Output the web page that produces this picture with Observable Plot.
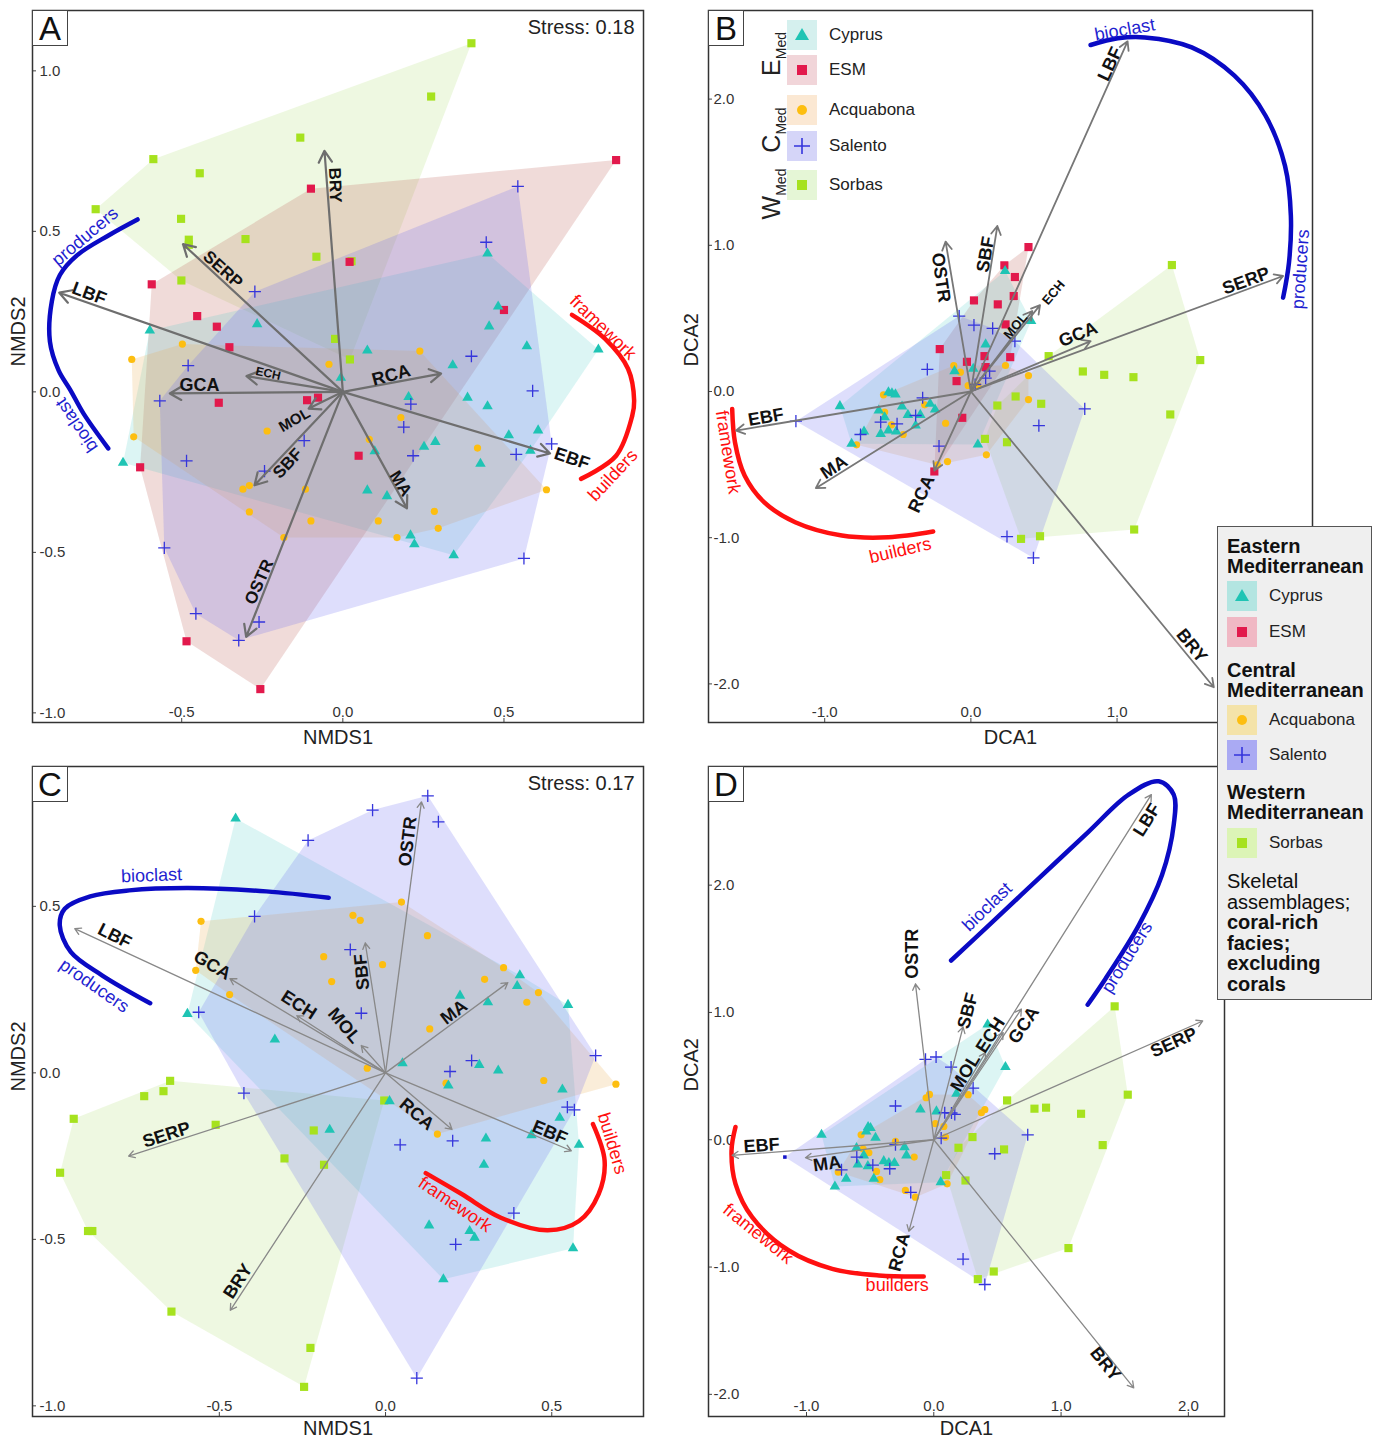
<!DOCTYPE html>
<html><head><meta charset="utf-8">
<script src="https://cdn.jsdelivr.net/npm/d3@7"></script>
<script src="https://cdn.jsdelivr.net/npm/@observablehq/plot@0.6"></script>
<style>
body{margin:0;background:#fff;font-family:"Liberation Sans",Arial,sans-serif;}
#root{position:relative;width:1379px;height:1440px;overflow:hidden;background:#fff;}
.panel{position:absolute;}
.letter{position:absolute;box-sizing:border-box;width:36px;height:36px;border:1px solid #444;background:#fff;font-size:33px;line-height:35px;text-align:center;color:#111;}
.glab{position:absolute;transform:translate(-50%,-50%) rotate(-90deg);white-space:nowrap;font-size:25px;color:#222;line-height:1;}
.glab sub{font-size:14px;}
.sw{position:absolute;width:30px;height:30px;}
.swt{position:absolute;font-size:17px;color:#222;line-height:30px;white-space:nowrap;}
#legend{position:absolute;left:1217px;top:526px;width:155px;height:474px;box-sizing:border-box;background:#efefef;border:1.5px solid #555;}
.lh{position:absolute;left:9px;font-size:20px;line-height:20px;font-weight:bold;color:#111;white-space:nowrap;}
.lt{position:absolute;left:9px;font-size:20px;line-height:20px;color:#111;white-space:nowrap;}
</style></head><body><div id="root"></div>
<script>
// ---------- Panel A (NMDS, skeletal assemblages) ----------
const aCyprus = [[0.449,0.431],[0.482,0.266],[0.454,0.204],[-0.266,0.211],[-0.599,0.191],[0.571,0.142],[0.793,0.132],[0.076,0.129],[0.341,0.083],[-0.006,0.044],[0.204,-0.016],[0.387,-0.018],[0.449,-0.045],[0.515,-0.135],[0.606,-0.120],[0.287,-0.156],[0.252,-0.171],[0.099,-0.185],[0.582,-0.183],[0.427,-0.224],[-0.682,-0.221],[0.076,-0.307],[0.137,-0.325],[0.210,-0.447],[0.222,-0.475],[0.344,-0.509]];
const aESM = [[0.848,0.722],[-0.099,0.633],[0.021,0.405],[-0.593,0.335],[0.500,0.255],[-0.452,0.236],[-0.391,0.203],[-0.352,0.139],[-0.385,-0.034],[-0.111,-0.026],[-0.077,-0.018],[0.049,-0.199],[-0.629,-0.235],[-0.485,-0.777],[-0.256,-0.926]];
const aAcquabona = [[-0.498,0.149],[-0.655,0.101],[0.239,0.127],[-0.043,0.086],[-0.649,-0.140],[-0.235,-0.122],[0.180,-0.080],[0.082,-0.148],[0.418,-0.175],[-0.310,-0.303],[-0.290,-0.292],[-0.116,-0.303],[0.632,-0.305],[-0.290,-0.374],[-0.099,-0.402],[0.110,-0.402],[0.284,-0.372],[0.296,-0.425],[-0.183,-0.454],[0.168,-0.454]];
const aSalento = [[0.543,0.640],[0.445,0.466],[-0.273,0.312],[0.399,0.111],[-0.480,0.082],[-0.568,-0.028],[0.589,0.003],[0.211,-0.038],[0.189,-0.110],[-0.120,-0.152],[0.648,-0.162],[0.538,-0.195],[0.218,-0.199],[-0.485,-0.215],[-0.243,-0.247],[-0.554,-0.486],[0.562,-0.519],[-0.456,-0.691],[-0.260,-0.717],[-0.323,-0.774]];
const aSorbas = [[0.399,1.086],[0.274,0.920],[-0.132,0.792],[-0.588,0.725],[-0.444,0.681],[-0.767,0.569],[-0.502,0.539],[-0.478,0.474],[-0.478,0.458],[-0.302,0.476],[-0.082,0.421],[0.027,0.407],[-0.501,0.347],[-0.024,0.165],[0.022,0.101]];
const aVars = ["LBF","SERP","BRY","ECH","GCA","RCA","MOL","SBF","OSTR","MA","EBF"];
const aVecX = [-0.880,-0.496,-0.057,-0.299,-0.537,0.305,-0.106,-0.274,-0.300,0.199,0.643];
const aVecY = [0.309,0.460,0.751,0.049,-0.005,0.057,-0.052,-0.291,-0.763,-0.363,-0.192];
const aLblX = [-0.787,-0.372,-0.024,-0.232,-0.445,0.150,-0.150,-0.171,-0.260,0.179,0.711];
const aLblY = [0.306,0.381,0.644,0.057,0.021,0.052,-0.088,-0.223,-0.592,-0.286,-0.208];
const aLblRot = [21,42,88,12,0,-15,-30,-47,-66,58,19];
const aLblSize = [18,17,17,12,18,18,15,17,17,17,18];
const aBlueArcX = [-0.637,-0.726,-0.824,-0.878,-0.903,-0.909,-0.882,-0.845,-0.805,-0.728];
const aBlueArcY = [0.537,0.488,0.426,0.364,0.282,0.157,0.067,0.005,-0.067,-0.176];
const aRedArcX = [0.711,0.814,0.885,0.904,0.898,0.848,0.739];
const aRedArcY = [0.240,0.165,0.072,-0.028,-0.075,-0.199,-0.271];
const aBlueText = ["producers","bioclast"], aBlueTX = [-0.800,-0.826], aBlueTY = [0.484,-0.104], aBlueTR = [-40,-124];
const aRedText = ["framework","builders"], aRedTX = [0.807,0.838], aRedTY = [0.201,-0.260], aRedTR = [44,-47];
const aXTicks = [-0.5,0,0.5], aYTicks = [1,0.5,0,-0.5,-1];

// ---------- Panel B (DCA, skeletal assemblages) ----------
const bCyprus = [[0.234,0.824],[0.101,0.322],[0.412,0.482],[-0.112,0.139],[0.016,0.155],[-0.564,-0.005],[-0.540,-0.012],[-0.516,-0.020],[-0.896,-0.100],[-0.630,-0.130],[-0.590,-0.176],[-0.471,-0.103],[-0.431,-0.160],[-0.346,-0.160],[-0.279,-0.084],[-0.245,-0.123],[-0.378,-0.233],[-0.617,-0.290],[-0.564,-0.267],[-0.511,-0.274],[-0.731,-0.274],[-0.816,-0.358],[0.048,-0.363]];
const bESM = [[0.394,0.988],[0.229,0.863],[0.301,0.783],[0.293,0.653],[0.021,0.623],[0.184,0.596],[0.237,0.459],[-0.213,0.290],[0.269,0.235],[0.093,0.242],[-0.027,0.203],[-0.098,0.071],[0.101,0.167],[-0.059,-0.180],[-0.250,-0.547]];
const bAcquabona = [[0.237,0.178],[-0.117,0.178],[-0.072,0.132],[-0.598,-0.023],[-0.316,-0.091],[0.394,0.109],[0.394,-0.055],[-0.019,0.041],[0.048,0.041],[-0.590,-0.141],[-0.543,-0.228],[-0.463,-0.294],[-0.782,-0.365],[-0.173,-0.217],[0.106,-0.433],[-0.160,-0.479],[-0.229,-0.502]];
const bSalento = [[-0.080,0.516],[0.021,0.454],[0.149,0.432],[0.301,0.345],[-0.298,0.151],[0.128,0.139],[0.101,0.091],[0.029,0.048],[-0.330,-0.043],[-1.197,-0.203],[-0.617,-0.210],[-0.505,-0.221],[-0.378,-0.164],[-0.755,-0.294],[-0.218,-0.374],[0.779,-0.119],[0.465,-0.233],[0.247,-0.992],[0.428,-1.138]];
const bSorbas = [[1.375,0.865],[1.569,0.215],[0.532,0.242],[0.766,0.137],[0.912,0.114],[1.112,0.098],[1.364,-0.157],[0.306,-0.034],[0.181,-0.096],[0.481,-0.084],[0.096,-0.324],[0.247,-0.347],[1.117,-0.944],[0.343,-1.008],[0.473,-0.990]];
const bVars = ["LBF","OSTR","SBF","ECH","MOL","GCA","SERP","EBF","MA","RCA","BRY"];
const bVecX = [1.072,-0.173,0.181,0.473,0.420,0.819,2.136,-1.606,-1.061,-0.250,1.662];
const bVecY = [2.395,1.025,1.132,0.591,0.550,0.345,0.790,-0.267,-0.661,-0.541,-2.023];
const bLblX = [0.952,-0.205,0.101,0.566,0.306,0.734,1.883,-1.402,-0.936,-0.338,1.511];
const bLblY = [2.240,0.779,0.938,0.676,0.447,0.390,0.756,-0.176,-0.518,-0.701,-1.738];
const bLblRot = [-65,82,-80,-50,-50,-22,-20,-10,-33,-65,51];
const bLblSize = [18,18,18,13,13,18,18,18,18,18,18];
const bBlueArcX = [0.819,1.005,1.191,1.511,1.803,2.016,2.149,2.189,2.176,2.136];
const bBlueArcY = [2.370,2.416,2.422,2.354,2.160,1.886,1.543,1.201,0.881,0.642];
const bRedArcX = [-1.633,-1.614,-1.548,-1.415,-1.202,-0.883,-0.564,-0.258];
const bRedArcY = [-0.119,-0.347,-0.575,-0.757,-0.894,-0.985,-0.997,-0.958];
const bBlueText = ["bioclast","producers"], bBlueTX = [1.053,2.255], bBlueTY = [2.475,0.836], bBlueTR = [-10,-86];
const bRedText = ["framework","builders"], bRedTX = [-1.662,-0.484], bRedTY = [-0.415,-1.088], bRedTR = [81,-13];
const bXTicks = [-1,0,1], bYTicks = [2,1,0,-1,-2];

// ---------- Panel C (NMDS, coral-rich facies) ----------
const cCyprus = [[-0.451,0.764],[-0.596,0.177],[-0.333,0.100],[0.224,0.232],[0.308,0.212],[0.404,0.293],[0.396,0.261],[0.549,0.204],[0.051,0.029],[0.282,0.024],[0.339,0.007],[0.189,-0.038],[0.532,-0.050],[0.012,-0.085],[-0.168,-0.171],[0.302,-0.197],[0.439,-0.187],[0.524,-0.135],[0.582,-0.216],[0.296,-0.276],[0.131,-0.458],[0.253,-0.475],[0.268,-0.495],[0.564,-0.527],[0.174,-0.620]];
const cAcquabona = [[0.048,0.513],[-0.098,0.473],[-0.076,0.458],[-0.555,0.455],[0.126,0.412],[-0.186,0.349],[-0.009,0.325],[-0.571,0.308],[-0.162,0.274],[0.355,0.316],[0.298,0.281],[0.460,0.241],[0.425,0.212],[-0.469,0.235],[0.133,0.132],[-0.055,0.014],[0.182,-0.031],[0.476,-0.023],[0.693,-0.034],[0.156,-0.184]];
const cSalento = [[0.127,0.832],[-0.039,0.789],[0.159,0.754],[-0.233,0.698],[-0.394,0.470],[-0.106,0.370],[-0.562,0.182],[-0.073,0.179],[0.632,0.052],[0.259,0.037],[0.194,0.004],[-0.426,-0.061],[0.547,-0.103],[0.568,-0.111],[0.202,-0.204],[0.044,-0.216],[0.386,-0.421],[0.211,-0.515],[0.094,-0.917]];
const cSorbas = [[-0.648,-0.024],[-0.668,-0.055],[-0.726,-0.070],[-0.004,-0.083],[-0.938,-0.138],[-0.511,-0.156],[-0.979,-0.300],[-0.216,-0.173],[-0.304,-0.257],[-0.185,-0.276],[-0.882,-0.475],[-0.895,-0.475],[-0.644,-0.717],[-0.226,-0.826],[-0.245,-0.943]];
const cVars = ["OSTR","SBF","LBF","GCA","ECH","MOL","MA","SERP","BRY","RCA","EBF"];
const cVecX = [0.108,-0.061,-0.935,-0.468,-0.267,-0.073,0.368,-0.773,-0.467,0.200,0.559];
const cVecY = [0.814,0.390,0.433,0.283,0.172,0.082,0.271,-0.250,-0.713,-0.170,-0.234];
const cLblX = [0.067,-0.071,-0.815,-0.521,-0.261,-0.124,0.206,-0.659,-0.444,0.094,0.494];
const cLblY = [0.695,0.303,0.411,0.323,0.204,0.142,0.182,-0.186,-0.626,-0.124,-0.179];
const cLblRot = [-83,-95,27,31,33,50,-37,-18,-57,40,23];
const cLblSize = [18,18,18,18,18,18,18,18,18,18,18];
const cBlueArcX = [-0.171,-0.359,-0.594,-0.771,-0.888,-0.965,-0.980,-0.947,-0.853,-0.708];
const cBlueArcY = [0.526,0.545,0.555,0.548,0.530,0.493,0.443,0.363,0.293,0.209];
const cRedArcX = [0.121,0.229,0.347,0.488,0.582,0.641,0.659,0.624];
const cRedArcY = [-0.301,-0.364,-0.435,-0.473,-0.445,-0.364,-0.264,-0.154];
const cBlueText = ["bioclast","producers"], cBlueTX = [-0.704,-0.876], cBlueTY = [0.593,0.262], cBlueTR = [-2,35];
const cRedText = ["framework","builders"], cRedTX = [0.209,0.682], cRedTY = [-0.395,-0.212], cRedTR = [34,73];
const cXTicks = [-0.5,0,0.5], cYTicks = [0.5,0,-0.5,-1];

// ---------- Panel D (DCA, coral-rich facies) ----------
const dCyprus = [[0.423,0.905],[0.563,0.571],[0.178,0.362],[-0.105,0.238],[0.021,0.223],[-0.882,0.039],[-0.516,0.100],[-0.497,0.092],[-0.531,0.065],[-0.458,0.016],[-0.607,-0.065],[-0.230,-0.058],[-0.215,-0.123],[-0.550,-0.123],[-0.393,-0.168],[-0.353,-0.183],[-0.309,-0.183],[-0.597,-0.194],[-0.518,-0.207],[-0.688,-0.307],[-0.777,-0.367],[-0.471,-0.307],[0.055,-0.333]];
const dAcquabona = [[-0.060,0.330],[-0.034,0.356],[0.270,0.354],[0.374,0.212],[0.401,0.236],[0.013,0.126],[0.079,0.105],[0.092,0.021],[-0.571,0.039],[-0.555,-0.073],[-0.510,-0.102],[-0.301,-0.013],[-0.154,-0.136],[-0.751,-0.254],[-0.450,-0.249],[-0.424,-0.314],[-0.223,-0.398],[-0.144,-0.451],[0.105,-0.346]];
const dSalento = [[-0.065,0.631],[0.018,0.650],[0.136,0.571],[0.309,0.406],[-0.301,0.265],[0.086,0.212],[0.139,0.210],[0.165,0.199],[0.058,0.013],[0.738,0.039],[-0.301,-0.039],[-0.605,-0.136],[-0.479,-0.199],[-0.725,-0.236],[-0.346,-0.228],[0.479,-0.110],[-0.181,-0.414],[0.230,-0.938],[0.401,-1.137]];
const dSalentoExtra = [[-1.170,-0.136]];
const dSorbas = [[1.421,1.048],[1.524,0.354],[0.576,0.309],[0.791,0.244],[0.882,0.252],[1.157,0.204],[0.304,0.021],[0.194,-0.063],[0.552,-0.076],[1.327,-0.042],[0.097,-0.278],[0.249,-0.320],[1.058,-0.851],[0.471,-1.035],[0.346,-1.095]];
const dVars = ["LBF","OSTR","SBF","MOL","ECH","GCA","SERP","EBF","MA","RCA","BRY"];
const dVecX = [1.709,-0.144,0.230,0.406,0.545,0.688,2.113,-1.584,-1.008,-0.196,1.571];
const dVecY = [2.711,1.224,0.886,0.684,0.842,1.026,0.933,-0.123,-0.141,-0.720,-1.949];
const dLblX = [1.675,-0.170,0.267,0.249,0.445,0.707,1.885,-1.353,-0.838,-0.270,1.348];
const dLblY = [2.513,1.461,1.013,0.526,0.821,0.900,0.763,-0.045,-0.189,-0.883,-1.761];
const dLblRot = [-58,-90,-75,-59,-57,-56,-24,-4,-8,-75,51];
const dLblSize = [18,18,18,18,18,18,18,18,18,18,18];
const dBlueArcX = [0.136,0.432,0.825,1.217,1.531,1.767,1.885,1.885,1.793,1.610,1.348,1.209];
const dBlueArcY = [1.408,1.684,2.053,2.421,2.711,2.816,2.711,2.474,2.079,1.684,1.263,1.061];
const dRedArcX = [-1.558,-1.589,-1.558,-1.427,-1.139,-0.798,-0.432,-0.079];
const dRedArcY = [0.100,-0.084,-0.346,-0.608,-0.870,-1.014,-1.066,-1.074];
const dBlueText = ["bioclast","producers"], dBlueTX = [0.419,1.518], dBlueTY = [1.829,1.434], dBlueTR = [-44,-58];
const dRedText = ["framework","builders"], dRedTX = [-1.380,-0.288], dRedTY = [-0.739,-1.145], dRedTR = [39,0];
const dXTicks = [-1,0,1,2], dYTicks = [2,1,0,-1,-2];

// ---------- legend ----------
const groupNames = ["Cyprus","ESM","Acquabona","Salento","Sorbas"];
const regionNames = ["Eastern\nMediterranean","Central\nMediterranean","Western\nMediterranean"];

// ---------- styling ----------
const COL = {Cyprus:"#1fc4b4", ESM:"#e2194c", Acquabona:"#fdbe10", Salento:"#3535dc", Sorbas:"#a6e21e"};
const HULL = {Cyprus:["#3cc8c0",0.18], ESM:["#c06a60",0.24], Acquabona:["#e8ac50",0.22], Salento:["#6a6af0",0.22], Sorbas:["#9ad850",0.17]};
const BLUE = "#0a0ac4", RED = "#ff1010";
const X = d => d[0], Y = d => d[1];
const fmt = d => d.toFixed(1);

function dotMark(name, data) {
  if (name === "Salento") return Plot.dot(data, {x: X, y: Y, symbol: "plus", r: 4, stroke: COL[name], strokeWidth: 1.3, fill: "none"});
  const sym = name === "Cyprus" ? "triangle" : name === "Acquabona" ? "circle" : "square";
  const r = name === "Cyprus" ? 3.9 : name === "Acquabona" ? 3.6 : 4.6;
  return Plot.dot(data, {x: X, y: Y, symbol: sym, r, fill: COL[name], stroke: "none"});
}

function makePanel(p) {
  const kx = (p.width - p.mL - p.mR) / (p.xd[1] - p.xd[0]);
  const ky = (p.height - p.mT - p.mB) / (p.yd[1] - p.yd[0]);
  const marks = [];
  const hullOrder = ["Sorbas","ESM","Cyprus","Acquabona","Salento"];
  for (const n of hullOrder) if (p.groups[n]) {
    const data = n === "Salento" && p.extra ? p.groups[n].concat(p.extra) : p.groups[n];
    marks.push(Plot.hull(data, {x: X, y: Y, fill: HULL[n][0], fillOpacity: HULL[n][1], stroke: "none"}));
  }
  // ticks
  marks.push(Plot.ruleX(p.xt, {x: d => d, y1: () => p.yd[0], y2: () => p.yd[0] + 4 / ky, stroke: "#444"}));
  marks.push(Plot.ruleY(p.yt, {y: d => d, x1: () => p.xd[0], x2: () => p.xd[0] + 4 / kx, stroke: "#444"}));
  marks.push(Plot.text(p.xt, {x: d => d, frameAnchor: "bottom", dy: -10, text: fmt, fontSize: 15, fill: "#333", lineAnchor: "middle"}));
  marks.push(Plot.text(p.yt, {y: d => d, frameAnchor: "left", dx: p.ytdx, text: fmt, fontSize: 15, fill: "#333", textAnchor: "start", lineAnchor: "middle"}));
  // arcs
  marks.push(Plot.line(p.blueX.map((v, i) => [v, p.blueY[i]]), {x: X, y: Y, stroke: BLUE, strokeWidth: 4.5, curve: "catmull-rom"}));
  marks.push(Plot.line(p.redX.map((v, i) => [v, p.redY[i]]), {x: X, y: Y, stroke: RED, strokeWidth: 4.5, curve: "catmull-rom"}));
  p.blueT.forEach((t, i) => marks.push(Plot.text([t], {x: () => p.blueTX[i], y: () => p.blueTY[i], text: d => d, rotate: p.blueTR[i], fontSize: 18, fill: "#1f1fd0"})));
  p.redT.forEach((t, i) => marks.push(Plot.text([t], {x: () => p.redTX[i], y: () => p.redTY[i], text: d => d, rotate: p.redTR[i], fontSize: 18, fill: RED})));
  // points
  for (const n of ["Sorbas","ESM","Acquabona","Cyprus","Salento"]) if (p.groups[n]) marks.push(dotMark(n, p.groups[n]));
  if (p.extra) marks.push(Plot.dot(p.extra, {x: X, y: Y, symbol: "square", r: 2, fill: "#1515c8"}));
  // arrows
  const idx = p.vars.map((_, i) => i);
  marks.push(Plot.arrow(idx, {x1: () => 0, y1: () => 0, x2: i => p.vx[i], y2: i => p.vy[i], stroke: p.arrowColor, strokeWidth: p.arrowWidth, headLength: p.head}));
  idx.forEach(i => marks.push(Plot.text([p.vars[i]], {x: () => p.lx[i], y: () => p.ly[i], text: d => d, rotate: p.rot[i], fontSize: p.size[i], fontWeight: "bold", fill: "#111"})));
  // axis titles
  marks.push(Plot.text([p.xTitle], {frameAnchor: "bottom", dy: p.xTitleDy, text: d => d, fontSize: 20, fill: "#222", lineAnchor: "middle"}));
  marks.push(Plot.text([p.yTitle], {frameAnchor: "left", dx: p.yTitleDx, text: d => d, fontSize: 20, fill: "#222", rotate: -90, lineAnchor: "middle"}));
  if (p.stress) marks.push(Plot.text([p.stress], {frameAnchor: "top-right", dx: -9, dy: p.stressDy, text: d => d, fontSize: 20, fill: "#222", textAnchor: "end", lineAnchor: "middle"}));
  marks.push(Plot.frame({stroke: "#333", strokeWidth: 1.5}));
  return Plot.plot({
    width: p.width, height: p.height,
    marginLeft: p.mL, marginRight: p.mR, marginTop: p.mT, marginBottom: p.mB,
    x: {domain: p.xd, axis: null}, y: {domain: p.yd, axis: null},
    style: {fontFamily: "'Liberation Sans', Arial, sans-serif", background: "transparent", overflow: "visible"},
    marks
  });
}

const panels = [
  {id: "A", left: 0, top: 0, width: 660, height: 760, mL: 32, mR: 17, mT: 10, mB: 38,
   xd: [-0.963, 0.933], yd: [-1.030, 1.188], xt: aXTicks, yt: aYTicks, ytdx: 7,
   groups: {Cyprus: aCyprus, ESM: aESM, Acquabona: aAcquabona, Salento: aSalento, Sorbas: aSorbas},
   vars: aVars, vx: aVecX, vy: aVecY, lx: aLblX, ly: aLblY, rot: aLblRot, size: aLblSize,
   arrowColor: "#6e6e6e", arrowWidth: 2.2, head: 9,
   blueX: aBlueArcX, blueY: aBlueArcY, redX: aRedArcX, redY: aRedArcY,
   blueT: aBlueText, blueTX: aBlueTX, blueTY: aBlueTY, blueTR: aBlueTR,
   redT: aRedText, redTX: aRedTX, redTY: aRedTY, redTR: aRedTR,
   xTitle: "NMDS1", yTitle: "NMDS2", xTitleDy: 15, yTitleDx: -14, stress: "Stress: 0.18", stressDy: 17},
  {id: "B", left: 680, top: 0, width: 650, height: 760, mL: 28, mR: 18, mT: 10, mB: 38,
   xd: [-1.795, 2.337], yd: [-2.264, 2.606], xt: bXTicks, yt: bYTicks, ytdx: 5,
   groups: {Cyprus: bCyprus, ESM: bESM, Acquabona: bAcquabona, Salento: bSalento, Sorbas: bSorbas},
   vars: bVars, vx: bVecX, vy: bVecY, lx: bLblX, ly: bLblY, rot: bLblRot, size: bLblSize,
   arrowColor: "#777", arrowWidth: 1.8, head: 8,
   blueX: bBlueArcX, blueY: bBlueArcY, redX: bRedArcX, redY: bRedArcY,
   blueT: bBlueText, blueTX: bBlueTX, blueTY: bBlueTY, blueTR: bBlueTR,
   redT: bRedText, redTX: bRedTX, redTY: bRedTY, redTR: bRedTR,
   xTitle: "DCA1", yTitle: "DCA2", xTitleDy: 15, yTitleDx: -17},
  {id: "C", left: 0, top: 740, width: 660, height: 700, mL: 32, mR: 17, mT: 26, mB: 24,
   xd: [-1.062, 0.776], yd: [-1.032, 0.920], xt: cXTicks, yt: cYTicks, ytdx: 7,
   groups: {Cyprus: cCyprus, Acquabona: cAcquabona, Salento: cSalento, Sorbas: cSorbas},
   vars: cVars, vx: cVecX, vy: cVecY, lx: cLblX, ly: cLblY, rot: cLblRot, size: cLblSize,
   arrowColor: "#888", arrowWidth: 1.3, head: 8,
   blueX: cBlueArcX, blueY: cBlueArcY, redX: cRedArcX, redY: cRedArcY,
   blueT: cBlueText, blueTX: cBlueTX, blueTY: cBlueTY, blueTR: cBlueTR,
   redT: cRedText, redTX: cRedTX, redTY: cRedTY, redTR: cRedTR,
   xTitle: "NMDS1", yTitle: "NMDS2", xTitleDy: 12, yTitleDx: -14, stress: "Stress: 0.17", stressDy: 17},
  {id: "D", left: 680, top: 740, width: 560, height: 700, mL: 28, mR: 16, mT: 26, mB: 24,
   xd: [-1.770, 2.284], yd: [-2.174, 2.932], xt: dXTicks, yt: dYTicks, ytdx: 5,
   groups: {Cyprus: dCyprus, Acquabona: dAcquabona, Salento: dSalento, Sorbas: dSorbas}, extra: dSalentoExtra,
   vars: dVars, vx: dVecX, vy: dVecY, lx: dLblX, ly: dLblY, rot: dLblRot, size: dLblSize,
   arrowColor: "#888", arrowWidth: 1.3, head: 8,
   blueX: dBlueArcX, blueY: dBlueArcY, redX: dRedArcX, redY: dRedArcY,
   blueT: dBlueText, blueTX: dBlueTX, blueTY: dBlueTY, blueTR: dBlueTR,
   redT: dRedText, redTX: dRedTX, redTY: dRedTY, redTR: dRedTR,
   xTitle: "DCA1", yTitle: "DCA2", xTitleDy: 12, yTitleDx: -17}
];

const root = document.getElementById("root");
for (const p of panels) {
  const div = document.createElement("div");
  div.className = "panel";
  div.style.left = p.left + "px"; div.style.top = p.top + "px";
  div.appendChild(makePanel(p));
  root.appendChild(div);
  const lt = document.createElement("div");
  lt.className = "letter";
  lt.style.left = (p.left + p.mL) + "px"; lt.style.top = (p.top + p.mT) + "px";
  lt.textContent = p.id;
  root.appendChild(lt);
}

// symbol svg for legend swatches
function symSvg(name) {
  const c = COL[name];
  let s = "";
  if (name === "Cyprus") s = `<polygon points="15,8 22,20 8,20" fill="${c}"/>`;
  else if (name === "ESM" || name === "Sorbas") s = `<rect x="10" y="10" width="10" height="10" fill="${c}"/>`;
  else if (name === "Acquabona") s = `<circle cx="15" cy="15" r="5" fill="${c}"/>`;
  else s = `<path d="M15,7V23M7,15H23" stroke="${c}" stroke-width="1.6"/>`;
  return `<svg width="30" height="30" style="position:absolute;left:0;top:0">${s}</svg>`;
}

// inset legend in panel B
const insetBg = {Cyprus:"#d5f0ee", ESM:"#f1d5d9", Acquabona:"#fbe8d3", Salento:"#d5d5f8", Sorbas:"#e5f6d6"};
const insetTops = [20, 55, 95, 131, 170];
groupNames.forEach((n, i) => {
  const sw = document.createElement("div");
  sw.className = "sw"; sw.style.left = "787px"; sw.style.top = insetTops[i] + "px"; sw.style.background = insetBg[n];
  sw.innerHTML = symSvg(n);
  root.appendChild(sw);
  const t = document.createElement("div");
  t.className = "swt"; t.style.left = "829px"; t.style.top = insetTops[i] + "px"; t.textContent = n;
  root.appendChild(t);
});
[["E", 54], ["C", 130], ["W", 194]].forEach(([l, y]) => {
  const g = document.createElement("div");
  g.className = "glab"; g.style.left = "773px"; g.style.top = y + "px";
  g.innerHTML = `${l}<sub>Med</sub>`;
  root.appendChild(g);
});

// main legend
const legend = document.createElement("div");
legend.id = "legend";
root.appendChild(legend);
const legBg = {Cyprus:"#b3e5e1", ESM:"#f0b8c4", Acquabona:"#f4e3a9", Salento:"#aaaaf3", Sorbas:"#dcf4b6"};
const headTops = [9, 133, 255];
regionNames.forEach((r, i) => {
  r.split("\n").forEach((line, j) => {
    const h = document.createElement("div");
    h.className = "lh"; h.style.top = (headTops[i] + 20 * j) + "px"; h.textContent = line;
    legend.appendChild(h);
  });
});
const legTops = [54, 90, 178, 213, 301];
groupNames.forEach((n, i) => {
  const sw = document.createElement("div");
  sw.className = "sw"; sw.style.left = "9px"; sw.style.top = legTops[i] + "px"; sw.style.background = legBg[n];
  sw.innerHTML = symSvg(n);
  legend.appendChild(sw);
  const t = document.createElement("div");
  t.className = "swt"; t.style.left = "51px"; t.style.top = legTops[i] + "px"; t.textContent = n;
  legend.appendChild(t);
});
const noteLines = [["Skeletal", false], ["assemblages;", false], ["coral-rich", true], ["facies;", true], ["excluding", true], ["corals", true]];
noteLines.forEach(([txt, b], i) => {
  const d = document.createElement("div");
  d.className = b ? "lh" : "lt"; d.style.top = (344 + 20.5 * i) + "px"; d.textContent = txt;
  legend.appendChild(d);
});
</script></body></html>
